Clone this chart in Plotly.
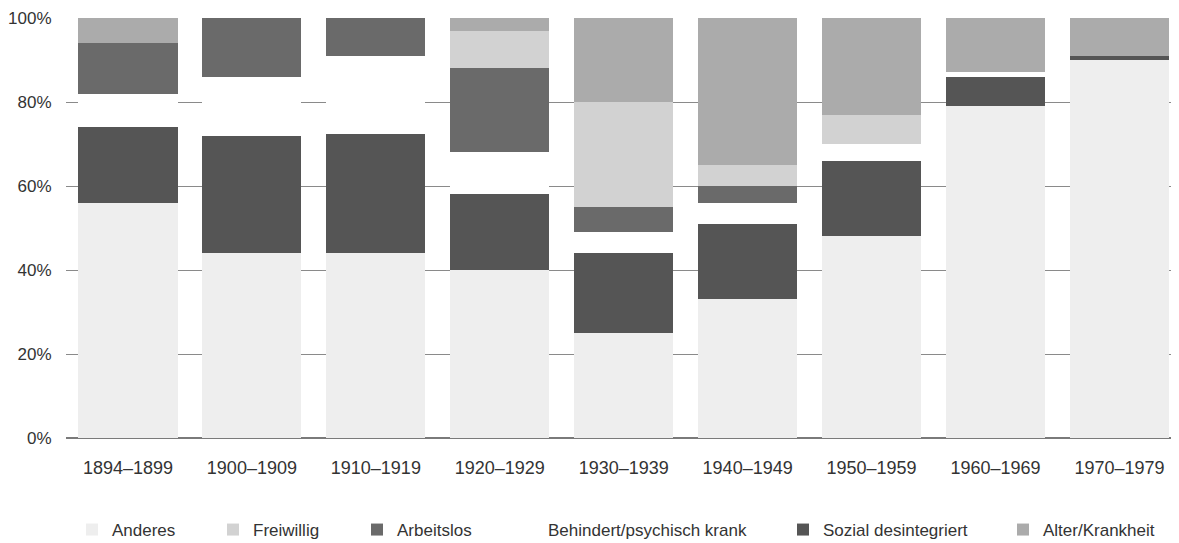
import plotly.graph_objects as go

periods = ["1894–1899", "1900–1909", "1910–1919", "1920–1929", "1930–1939",
           "1940–1949", "1950–1959", "1960–1969", "1970–1979"]
anderes = [56, 44, 44, 40, 25, 33, 48, 79, 90]
sozial = [18, 28, 28.4, 18, 19, 18, 18, 7, 1]
behindert = [8, 14, 18.6, 10, 5, 5, 4, 1.2, 0]
arbeitslos = [12, 14, 9, 20, 6, 4, 0, 0, 0]
freiwillig = [0, 0, 0, 9, 25, 5, 7, 0, 0]
alter = [6, 0, 0, 3, 20, 35, 23, 12.8, 9]
tick_vals = [0, 20, 40, 60, 80, 100]
tick_text = ["0%", "20%", "40%", "60%", "80%", "100%"]

series = [
    ("Anderes", anderes, "#eeeeee", "legend", 112),
    ("Sozial desintegriert", sozial, "#555555", "legend5", 823),
    ("Behindert/psychisch krank", behindert, "#ffffff", "legend4", 548),
    ("Arbeitslos", arbeitslos, "#6a6a6a", "legend3", 397),
    ("Freiwillig", freiwillig, "#d2d2d2", "legend2", 253),
    ("Alter/Krankheit", alter, "#ababab", "legend6", 1043),
]

FONT = "Liberation Sans, Arial, sans-serif"
W, H = 1179, 543

fig = go.Figure()
for name, vals, color, leg, _ in series:
    fig.add_trace(go.Bar(
        x=periods, y=vals, name=name, legend=leg,
        marker=dict(color=color, line=dict(width=0)),
    ))

legend_layout = {}
for name, vals, color, leg, textx in series:
    legend_layout[leg] = dict(
        x=(textx - 48) / W, xref="container", xanchor="left",
        y=1 - 522 / H, yref="container", yanchor="middle",
        orientation="h", bgcolor="rgba(0,0,0,0)",
        font=dict(family=FONT, size=17, color="#333333"),
        itemclick=False, itemdoubleclick=False,
    )

fig.update_layout(
    width=W, height=H,
    barmode="stack", bargap=0.2,
    plot_bgcolor="white", paper_bgcolor="white",
    margin=dict(l=58, r=0, t=10, b=113, autoexpand=False),
    font=dict(family=FONT, size=17, color="#333333"),
    showlegend=True,
    **legend_layout,
)
fig.update_xaxes(
    range=[-0.5, 8.545], showgrid=False, showline=False,
    ticks="outside", ticklen=13, tickcolor="rgba(0,0,0,0)",
    tickfont=dict(family=FONT, size=18, color="#333333"),
    automargin=False,
)
fig.update_yaxes(
    range=[0, 100], tickvals=tick_vals, ticktext=tick_text,
    showgrid=True, gridcolor="#8a8a8a", gridwidth=1,
    zeroline=True, zerolinecolor="#7a7a7a", zerolinewidth=1.5,
    showline=False,
    ticks="outside", ticklen=10, tickcolor="rgba(0,0,0,0)",
    tickfont=dict(family=FONT, size=17, color="#333333"),
    automargin=False,
)

fig.write_html("out.html")
